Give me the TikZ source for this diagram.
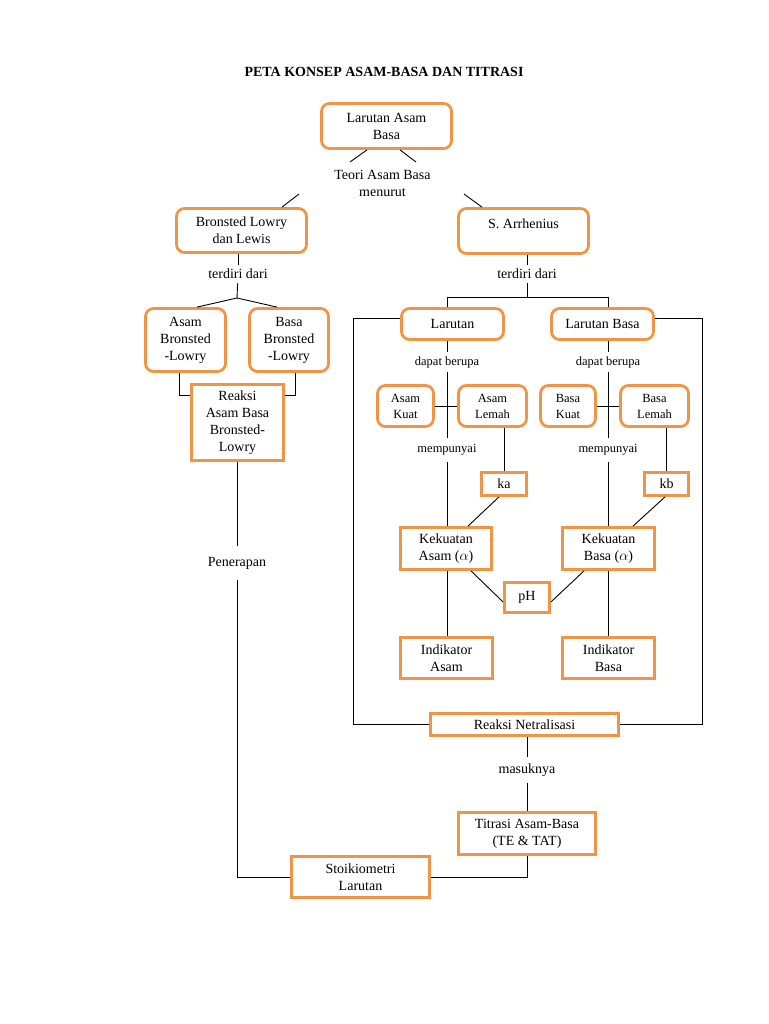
\documentclass[tikz,border=0pt]{standalone}
\usepackage{fontspec}
\setmainfont{Liberation Serif}
\definecolor{oranye}{RGB}{240,148,72}
\tikzset{
  bulat/.style={draw=oranye, line width=2.8pt, rounded corners=8pt, align=center, inner sep=0pt, font=\fontsize{14}{17}\selectfont},
  kotak/.style={draw=oranye, line width=2.8pt, align=center, inner sep=0pt, font=\fontsize{14}{17}\selectfont},
  kecil/.style={font=\fontsize{12.5}{16}\selectfont},
  ket/.style={align=center, inner sep=4pt, font=\fontsize{14}{17}\selectfont},
}
\begin{document}
\begin{tikzpicture}[x=1pt, y=-1pt, line width=0.9pt]
\useasboundingbox (0,0) rectangle (768,1024);
\node[font=\bfseries\fontsize{14}{17}\selectfont] (judul) at (384,72) {PETA KONSEP ASAM-BASA DAN TITRASI};

% bagian atas
\node[bulat, minimum width=130, minimum height=45] (lab) at (386.5,126) {Larutan Asam\\Basa};
\node[ket] (teori) at (382.5,183) {Teori Asam Basa\\menurut};
\node[bulat, minimum width=130, minimum height=44] (bronsted) at (241.5,230.5) {Bronsted Lowry\\dan Lewis};
\node[bulat, minimum width=130, minimum height=45] (arr) at (523.5,231) {S. Arrhenius\\[-7pt]\strut};
\coordinate (t1) at (350,162);
\coordinate (t2) at (416,162);
\coordinate (t3) at (299,194);
\coordinate (t4) at (464,194);
\draw ([xshift=-19.5]lab.south) -- (t1);
\draw ([xshift=13.5]lab.south) -- (t2);
\draw (t3) -- ([xshift=40.5]bronsted.north);
\draw (t4) -- ([xshift=-41.5]arr.north);

% Bronsted Lowry
\node[ket] (td1) at (238,274) {terdiri dari};
\node[bulat, minimum width=80, minimum height=63] (absl) at (185.5,340) {Asam\\Bronsted\\-Lowry};
\node[bulat, minimum width=79, minimum height=63] (bbsl) at (289,340) {Basa\\Bronsted\\-Lowry};
\node[kotak, minimum width=92, minimum height=76] (rabl) at (237.5,422.5) {Reaksi\\Asam Basa\\Bronsted-\\Lowry};
\node[ket, inner sep=10pt] (pen) at (237,563) {Penerapan};
\coordinate (cab) at (237,298);
\draw (bronsted.south -| td1) -- (td1);
\draw (td1) -- (cab);
\draw (cab) -- ([xshift=11.5]absl.north);
\draw (cab) -- ([xshift=-12]bbsl.north);
\draw ([xshift=-6.5]absl.south) |- ([yshift=27.5]rabl.west);
\draw ([xshift=6]bbsl.south) |- ([yshift=27.5]rabl.east);
\draw (rabl.south -| pen) -- (pen);

% Arrhenius
\node[ket] (td2) at (527,274) {terdiri dari};
\node[bulat, minimum width=102, minimum height=31] (lar) at (452.5,324) {Larutan};
\node[bulat, minimum width=102, minimum height=31] (lbs) at (602.5,324) {Larutan Basa};
\node[ket, kecil] (dp1) at (447,362) {dapat berupa};
\node[ket, kecil] (dp2) at (608,362) {dapat berupa};
\node[bulat, kecil, minimum width=56, minimum height=41] (ak) at (405.5,406) {Asam\\Kuat};
\node[bulat, kecil, minimum width=68, minimum height=41] (al) at (492.5,406) {Asam\\Lemah};
\node[bulat, kecil, minimum width=55, minimum height=41] (bk) at (568,406) {Basa\\Kuat};
\node[bulat, kecil, minimum width=68, minimum height=41] (blm) at (654.5,406) {Basa\\Lemah};
\node[ket, kecil, inner sep=6pt] (mp1) at (447,450) {mempunyai};
\node[ket, kecil, inner sep=6pt] (mp2) at (608,450) {mempunyai};
\node[kotak, minimum width=45, minimum height=23] (ka) at (504,484) {ka};
\node[kotak, minimum width=44, minimum height=23] (kb) at (666.5,484) {kb};
\node[kotak, minimum width=91, minimum height=42] (ksa) at (446,548.5) {Kekuatan\\Asam ($\alpha$)};
\node[kotak, minimum width=92, minimum height=42] (ksb) at (608.5,548.5) {Kekuatan\\Basa ($\alpha$)};
\node[kotak, minimum width=45, minimum height=30] (ph) at (527,597.5) {pH};
\node[kotak, minimum width=92, minimum height=41] (ina) at (446.5,658) {Indikator\\Asam};
\node[kotak, minimum width=92, minimum height=41] (inb) at (608.5,658) {Indikator\\Basa};
\node[kotak, minimum width=188, minimum height=22] (rn) at (524.5,724.5) {Reaksi Netralisasi};
\coordinate (car) at (527,297);
\coordinate (kiri) at (353,318);
\coordinate (kanan) at (702,318);
\draw (arr.south -| td2) -- (td2);
\draw (td2) -- (car);
\draw (lar.north -| dp1) -- (dp1 |- car) -- (dp2 |- car) -- (lbs.north -| dp2);
\draw ([yshift=6]lar.west) -- (kiri) |- (rn.west);
\draw ([yshift=6]lbs.east) -- (kanan) |- (rn.east);
\draw (lar.south -| dp1) -- (dp1);
\draw (lbs.south -| dp2) -- (dp2);
\draw (dp1) -- (mp1);
\draw (dp2) -- (mp2);
\draw (ak) -- (al);
\draw (bk) -- (blm);
\draw (mp1) -- (ksa.north -| mp1);
\draw (mp2) -- (ksb.north -| mp2);
\draw (al.south -| ka) -- (ka);
\draw (blm.south -| kb) -- (kb);
\draw ([xshift=-5]ka.south) -- ([xshift=22]ksa.north);
\draw ([xshift=-1.5]kb.south) -- ([xshift=24.5]ksb.north);
\draw ([xshift=25]ksa.south) -- ([yshift=-4.5]ph.west);
\draw ([xshift=-24.5]ksb.south) -- ([yshift=-4.5]ph.east);
\draw (ksa.south -| mp1) -- (ina.north -| mp1);
\draw (ksb.south -| mp2) -- (inb.north -| mp2);

% titrasi
\node[ket, inner sep=6pt] (mas) at (527,770) {masuknya};
\node[kotak, minimum width=137, minimum height=42] (tit) at (527,833.5) {Titrasi Asam-Basa\\(TE \& TAT)};
\node[kotak, minimum width=138, minimum height=41] (sto) at (360.5,877) {Stoikiometri\\Larutan};
\draw (rn.south -| mas) -- (mas);
\draw (mas) -- (tit);
\draw (tit) |- (sto);
\draw (pen) |- (sto);
\end{tikzpicture}
\end{document}
